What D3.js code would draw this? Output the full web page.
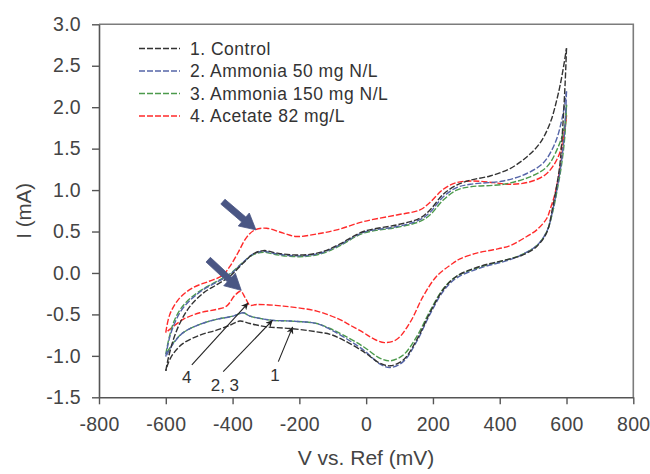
<!DOCTYPE html>
<html>
<head>
<meta charset="utf-8">
<script src="https://cdn.jsdelivr.net/npm/d3@7"></script>
<style>
  html, body { margin: 0; padding: 0; background: #fff; }
  svg { display: block; font-family: "Liberation Sans", Arial, sans-serif; }
</style>
</head>
<body>
<svg id="chart" width="650" height="474"></svg>
<script>
// Cyclic voltammograms: each scan is split into its forward (anodic, -600 -> 600 mV)
// and reverse (cathodic, 600 -> -600 mV) branch. Values are [potential mV, current mA].
const controlAnodic = [[-600,-1.18],[-592,-1.02],[-577,-0.80],[-557,-0.60],[-527,-0.40],[-487,-0.24],[-447,-0.14],[-408,-0.04],[-368,0.12],[-338,0.23],[-308,0.27],[-268,0.24],[-228,0.22],[-178,0.22],[-128,0.26],[-78,0.35],[-8,0.50],[92,0.58],[160,0.66],[191,0.76],[231,0.95],[271,1.06],[312,1.12],[371,1.17],[431,1.26],[481,1.40],[521,1.57],[551,1.81],[571,2.09],[586,2.37],[600,2.71]];
const controlCathodic = [[600,2.71],[596,2.30],[589,1.78],[580,1.30],[570,1.04],[558,0.78],[541,0.49],[511,0.32],[471,0.22],[431,0.17],[341,0.08],[271,-0.04],[231,-0.20],[191,-0.48],[151,-0.81],[111,-1.05],[72,-1.12],[42,-1.09],[-8,-0.95],[-68,-0.81],[-108,-0.74],[-148,-0.71],[-228,-0.67],[-298,-0.65],[-348,-0.61],[-378,-0.58],[-408,-0.63],[-448,-0.69],[-498,-0.75],[-548,-0.85],[-577,-0.97],[-592,-1.08],[-600,-1.18]];

const ammonia50Anodic = [[-600,-1.01],[-590,-0.80],[-575,-0.62],[-555,-0.46],[-525,-0.32],[-487,-0.20],[-447,-0.11],[-408,-0.02],[-368,0.13],[-338,0.23],[-308,0.26],[-268,0.23],[-228,0.21],[-178,0.21],[-128,0.25],[-78,0.34],[-8,0.49],[92,0.56],[160,0.64],[191,0.73],[231,0.92],[271,1.03],[312,1.07],[411,1.11],[481,1.20],[531,1.33],[566,1.57],[586,1.85],[600,2.19]];
const ammonia50Cathodic = [[600,2.19],[595,1.75],[585,1.35],[573,1.05],[560,0.78],[541,0.50],[511,0.33],[471,0.23],[431,0.16],[341,0.06],[271,-0.06],[231,-0.22],[191,-0.50],[151,-0.83],[111,-1.07],[72,-1.14],[42,-1.10],[-8,-0.93],[-68,-0.77],[-108,-0.68],[-148,-0.61],[-228,-0.58],[-283,-0.57],[-348,-0.52],[-368,-0.48],[-398,-0.52],[-448,-0.56],[-498,-0.62],[-548,-0.72],[-577,-0.85],[-592,-0.95],[-600,-1.01]];

const ammonia150Anodic = [[-600,-0.98],[-590,-0.78],[-575,-0.58],[-555,-0.43],[-525,-0.30],[-487,-0.19],[-447,-0.10],[-408,-0.01],[-368,0.13],[-338,0.22],[-308,0.25],[-268,0.22],[-228,0.20],[-178,0.20],[-128,0.24],[-78,0.33],[-8,0.48],[92,0.55],[160,0.62],[191,0.70],[231,0.88],[271,1.00],[312,1.04],[411,1.07],[491,1.16],[541,1.28],[576,1.53],[594,1.77],[600,2.03]];
const ammonia150Cathodic = [[600,2.03],[595,1.65],[585,1.30],[573,1.02],[560,0.76],[541,0.50],[511,0.33],[471,0.23],[431,0.17],[341,0.07],[271,-0.04],[231,-0.19],[191,-0.46],[151,-0.77],[111,-0.99],[72,-1.06],[42,-1.03],[-8,-0.89],[-68,-0.75],[-108,-0.67],[-148,-0.61],[-228,-0.58],[-283,-0.57],[-348,-0.52],[-368,-0.48],[-398,-0.52],[-448,-0.56],[-498,-0.62],[-548,-0.72],[-577,-0.84],[-592,-0.93],[-600,-0.98]];

const acetateAnodic = [[-600,-0.72],[-588,-0.50],[-560,-0.31],[-520,-0.18],[-470,-0.10],[-430,-0.03],[-408,0.08],[-383,0.25],[-358,0.43],[-333,0.52],[-298,0.54],[-248,0.48],[-208,0.44],[-148,0.47],[-88,0.52],[-8,0.62],[92,0.70],[161,0.76],[191,0.85],[231,1.01],[271,1.09],[321,1.11],[381,1.09],[431,1.07],[491,1.10],[541,1.20],[576,1.41],[593,1.69],[600,1.90]];
const acetateCathodic = [[600,1.90],[592,1.65],[582,1.30],[565,0.95],[552,0.78],[541,0.66],[511,0.52],[481,0.44],[431,0.33],[381,0.28],[331,0.24],[281,0.17],[261,0.12],[211,-0.04],[171,-0.28],[131,-0.60],[92,-0.80],[55,-0.84],[20,-0.79],[-8,-0.72],[-48,-0.63],[-80,-0.56],[-148,-0.46],[-248,-0.40],[-328,-0.38],[-348,-0.39],[-362,-0.30],[-376,-0.22],[-393,-0.27],[-418,-0.40],[-448,-0.44],[-498,-0.48],[-548,-0.56],[-588,-0.68],[-600,-0.72]];

const seriesNames = ["1. Control", "2. Ammonia 50 mg N/L", "3. Ammonia 150 mg N/L", "4. Acetate 82 mg/L"];
const seriesColors = ["#333333", "#5565a8", "#4c9a4c", "#ff2a2a"];
const seriesBranches = [
  [controlAnodic, controlCathodic],
  [ammonia50Anodic, ammonia50Cathodic],
  [ammonia150Anodic, ammonia150Cathodic],
  [acetateAnodic, acetateCathodic]
];

const xTicks = [-800, -600, -400, -200, 0, 200, 400, 600, 800];
const yTicks = [-1.5, -1.0, -0.5, 0.0, 0.5, 1.0, 1.5, 2.0, 2.5, 3.0];

// Peak markers (thick arrows) and numbered call-outs: [tail, tip] in data units
const peakArrows = [
  [[-429, 0.86], [-330, 0.52]],
  [[-473, 0.16], [-374, -0.21]]
];
const callouts = [
  { label: "4",    text: [-537, -1.25], from: [-522, -1.11], to: [-353, -0.36] },
  { label: "2, 3", text: [-423, -1.35], from: [-428, -1.19], to: [-280, -0.57] },
  { label: "1",    text: [-273, -1.23], from: [-263, -1.07], to: [-220, -0.65] }
];

const svg = d3.select("#chart");
const x = d3.scaleLinear().domain([-800, 800]).range([99, 633.3]);
const y = d3.scaleLinear().domain([-1.5, 3.0]).range([397.3, 24.3]);

// frame: top and right edges
svg.append("path")
  .attr("d", `M${x(-800)},${y(3)}H${x(800)}V${y(-1.5)}`)
  .attr("fill", "none").attr("stroke", "#7c7c7c").attr("stroke-width", 1.6);

const yAxis = svg.append("g")
  .attr("transform", `translate(${x(-800)},0)`)
  .call(d3.axisLeft(y).tickValues(yTicks).tickFormat(d => d.toFixed(1))
    .tickSize(7).tickSizeOuter(0).tickPadding(11));
const xAxis = svg.append("g")
  .attr("transform", `translate(0,${y(-1.5)})`)
  .call(d3.axisBottom(x).tickValues(xTicks).tickFormat(d => String(d))
    .tickSize(7).tickSizeOuter(0).tickPadding(13));

[xAxis, yAxis].forEach(g => {
  g.select(".domain").attr("stroke", "#555").attr("stroke-width", 1.6);
  g.selectAll(".tick line").attr("stroke", "#555").attr("stroke-width", 1.4);
  g.selectAll(".tick text").attr("fill", "#444").style("font-size", "19.5px")
    .style("letter-spacing", "0.3px")
    .style("font-family", "'Liberation Sans', Arial, sans-serif");
});

// axis titles
svg.append("text")
  .attr("x", 366).attr("y", 465).attr("text-anchor", "middle")
  .attr("fill", "#444").style("font-size", "21px")
  .text("V vs. Ref (mV)");
svg.append("text")
  .attr("transform", `translate(31,${(y(3) + y(-1.5)) / 2}) rotate(-90)`)
  .attr("text-anchor", "middle")
  .attr("fill", "#444").style("font-size", "20.5px")
  .text("I (mA)");

// voltammogram traces; the control scan is drawn last so it sits on top
const line = d3.line().x(d => x(d[0])).y(d => y(d[1])).curve(d3.curveCatmullRom.alpha(0.5));
const traces = svg.append("g");
[3, 2, 1, 0].forEach(i => {
  seriesBranches[i].forEach(b => {
    traces.append("path")
      .attr("d", line(b))
      .attr("fill", "none")
      .attr("stroke", seriesColors[i])
      .attr("stroke-width", 1.4)
      .attr("stroke-dasharray", "6,2");
  });
});

// legend
const legend = svg.append("g");
seriesNames.forEach((name, i) => {
  const cy = 48.5 + i * 22.5;
  legend.append("line")
    .attr("x1", 139).attr("x2", 180).attr("y1", cy).attr("y2", cy)
    .attr("stroke", seriesColors[i]).attr("stroke-width", 1.3)
    .attr("stroke-dasharray", "6,2");
  legend.append("text")
    .attr("x", 190).attr("y", cy + 6)
    .attr("fill", "#333").style("font-size", "17.5px")
    .style("letter-spacing", "0.5px")
    .text(name);
});

// thick arrows marking the acetate peaks
peakArrows.forEach(([tail, tip]) => {
  const x0 = x(tail[0]), y0 = y(tail[1]), x1 = x(tip[0]), y1 = y(tip[1]);
  const len = Math.hypot(x1 - x0, y1 - y0);
  const ux = (x1 - x0) / len, uy = (y1 - y0) / len;
  const px = -uy, py = ux;
  const head = 16, hw = 8.5, sw = 3.2;
  const bx = x1 - ux * head, by = y1 - uy * head;
  const pts = [
    [x0 + px * sw, y0 + py * sw],
    [bx + px * sw, by + py * sw],
    [bx + px * hw, by + py * hw],
    [x1, y1],
    [bx - px * hw, by - py * hw],
    [bx - px * sw, by - py * sw],
    [x0 - px * sw, y0 - py * sw]
  ];
  svg.append("path")
    .attr("d", "M" + pts.map(p => p.join(",")).join("L") + "Z")
    .attr("fill", "#4a5684").attr("stroke", "#4a5684")
    .attr("stroke-width", 0.8).attr("stroke-linejoin", "round");
});

// numbered call-outs
svg.append("defs").append("marker")
  .attr("id", "tip").attr("viewBox", "0 0 10 10")
  .attr("refX", 10).attr("refY", 5)
  .attr("markerWidth", 9).attr("markerHeight", 7)
  .attr("markerUnits", "userSpaceOnUse")
  .attr("orient", "auto")
  .append("path").attr("d", "M0,0L10,5L0,10L3,5Z").attr("fill", "#222");
callouts.forEach(c => {
  svg.append("line")
    .attr("x1", x(c.from[0])).attr("y1", y(c.from[1]))
    .attr("x2", x(c.to[0])).attr("y2", y(c.to[1]))
    .attr("stroke", "#222").attr("stroke-width", 1.1)
    .attr("marker-end", "url(#tip)");
  svg.append("text")
    .attr("x", x(c.text[0])).attr("y", y(c.text[1]) + 6)
    .attr("text-anchor", "middle")
    .attr("fill", "#333").style("font-size", "17px")
    .text(c.label);
});
</script>
</body>
</html>
